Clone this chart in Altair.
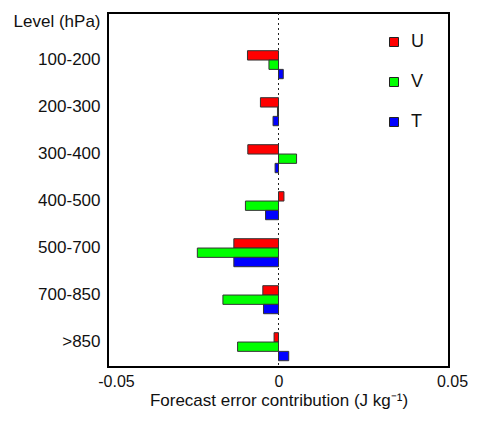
import altair as alt
import pandas as pd

levels = ["100-200", "200-300", "300-400", "400-500", "500-700", "700-850", ">850"]
series = ["U", "V", "T"]
u_vals = [-0.0091, -0.0053, -0.0090, 0.0016, -0.0131, -0.0046, -0.0013]
v_vals = [-0.0028, -0.0003, 0.0053, -0.0097, -0.0238, -0.0163, -0.0120]
t_vals = [0.0014, -0.0016, -0.0010, -0.0038, -0.0131, -0.0044, 0.0030]
colors = ["#ff0000", "#00ff00", "#0000ff"]
x_ticks = [-0.05, 0, 0.05]

rows = []
for name, vals in zip(series, [u_vals, v_vals, t_vals]):
    for lev, v in zip(levels, vals):
        rows.append({"level": lev, "series": name, "value": v})
df = pd.DataFrame(rows)

FONT = "Liberation Sans"

x_enc = alt.X(
    "value:Q",
    scale=alt.Scale(domain=[-0.05, 0.05], nice=False, zero=False),
    axis=alt.Axis(
        values=x_ticks,
        format="~g",
        labelExpr="replace(datum.label, '\u2212', '-')",
        ticks=False,
        grid=False,
        domain=False,
        labelFlush=False,
        labelFontSize=16,
        labelFont=FONT,
        labelColor="#111",
        labelPadding=6,
        labelOffset=alt.ExprRef("datum.value < 0 ? 8 : (datum.value > 0 ? 3 : 0)"),
        title="Forecast error contribution (J kg⁻¹)",
        titleFontSize=17,
        titleFont=FONT,
        titleFontWeight="normal",
        titleColor="#111",
        titlePadding=3,
    ),
)

bars = alt.Chart(df).mark_bar(stroke="#333", strokeWidth=1).encode(
    x=x_enc,
    y=alt.Y(
        "level:N",
        sort=levels,
        scale=alt.Scale(paddingInner=0.404, paddingOuter=0.468, align=0.857),
        axis=alt.Axis(
            ticks=False,
            domain=False,
            grid=False,
            labelFontSize=17,
            labelFont=FONT,
            labelColor="#111",
            labelPadding=8,
            labelOffset=-5,
            title="Level (hPa)",
            titleAngle=0,
            titleAlign="right",
            titleBaseline="middle",
            titleX=-8,
            titleY=8,
            titleFontSize=17,
            titleFont=FONT,
            titleFontWeight="normal",
            titleColor="#111",
        ),
    ),
    yOffset=alt.YOffset("series:N", sort=series, scale=alt.Scale(paddingInner=0, paddingOuter=0)),
    color=alt.Color(
        "series:N",
        sort=series,
        scale=alt.Scale(domain=series, range=colors),
        legend=alt.Legend(
            title=None,
            orient="none",
            legendX=277,
            legendY=20,
            padding=0,
            symbolType="square",
            symbolSize=81,
            symbolStrokeColor="#222",
            symbolStrokeWidth=1,
            labelFontSize=18,
            labelFont=FONT,
            labelColor="#111",
            labelOffset=8,
            rowPadding=22,
        ),
    ),
)

zero = alt.Chart(pd.DataFrame({"z": [0]})).mark_rule(
    color="#222", strokeWidth=1, strokeDash=[2, 3]
).encode(x=alt.X("z:Q"))

chart = alt.layer(zero, bars).properties(
    width=341,
    height=354,
    autosize=alt.AutoSizeParams(type="none"),
    padding={"left": 100, "top": 5, "right": 20, "bottom": 43},
).configure_view(stroke="black", strokeWidth=2)

chart.save("out.html", embed_options={"renderer": "svg", "actions": False})
